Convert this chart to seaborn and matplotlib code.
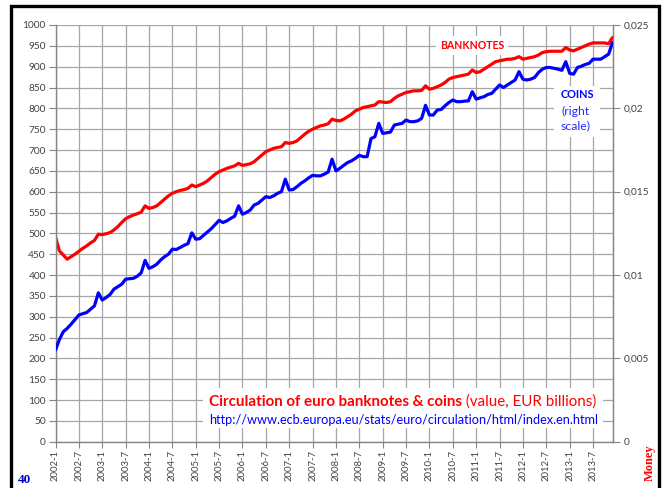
import matplotlib
matplotlib.use('Agg')
import matplotlib.pyplot as plt
import seaborn as sns
import pandas as pd
from matplotlib.lines import Line2D
from matplotlib.patches import Rectangle

# monthly categories 2002-1 .. 2013-12
months = [f'{y}-{m}' for y in range(2002, 2014) for m in range(1, 13)]

# banknotes in circulation (left scale, EUR billions)
banknotes = [
    491, 458, 448, 438, 444, 450, 457, 464, 470, 477, 483, 498,
    497, 499, 502, 508, 516, 526, 535, 540, 544, 547, 551, 566,
    560, 562, 566, 574, 582, 590, 596, 600, 603, 605, 608, 616,
    612, 616, 620, 626, 634, 642, 648, 652, 656, 659, 662, 668,
    663, 665, 667, 672, 680, 688, 696, 700, 704, 706, 708, 718,
    716, 718, 722, 730, 738, 745, 750, 754, 758, 760, 763, 774,
    771, 770, 774, 780, 786, 794, 798, 802, 804, 806, 808, 816,
    815, 814, 816, 824, 830, 834, 838, 840, 842, 842, 843, 854,
    846, 848, 852, 856, 862, 870, 874, 876, 878, 880, 882, 892,
    886, 888, 894, 900, 906, 912, 914, 916, 918, 918, 920, 924,
    918, 920, 922, 924, 928, 934, 936, 937, 937, 937, 937, 946,
    940, 938, 942, 946, 950, 954, 957, 957, 957, 957, 955, 970,
]

# coins in circulation (right scale)
coins = [
    0.00550, 0.00613, 0.00660, 0.00680, 0.00705, 0.00733, 0.00760, 0.00768, 0.00775, 0.00795, 0.00815, 0.00893,
    0.00850, 0.00865, 0.00883, 0.00915, 0.00930, 0.00945, 0.00975, 0.00978, 0.00980, 0.00993, 0.01013, 0.01088,
    0.01040, 0.01050, 0.01065, 0.01090, 0.01110, 0.01125, 0.01155, 0.01153, 0.01165, 0.01178, 0.01188, 0.01253,
    0.01215, 0.01218, 0.01238, 0.01258, 0.01278, 0.01303, 0.01328, 0.01315, 0.01325, 0.01340, 0.01353, 0.01415,
    0.01365, 0.01375, 0.01390, 0.01420, 0.01430, 0.01450, 0.01470, 0.01465, 0.01475, 0.01490, 0.01500, 0.01575,
    0.01510, 0.01513, 0.01530, 0.01550, 0.01565, 0.01583, 0.01598, 0.01595, 0.01595, 0.01605, 0.01618, 0.01695,
    0.01625, 0.01640, 0.01658, 0.01675, 0.01685, 0.01700, 0.01718, 0.01710, 0.01710, 0.01818, 0.01830, 0.01910,
    0.01850, 0.01853, 0.01858, 0.01900, 0.01905, 0.01910, 0.01930, 0.01920, 0.01920, 0.01925, 0.01940, 0.02018,
    0.01960, 0.01960, 0.01990, 0.01993, 0.02015, 0.02035, 0.02050, 0.02040, 0.02040, 0.02043, 0.02045, 0.02100,
    0.02055, 0.02063, 0.02070, 0.02083, 0.02090, 0.02115, 0.02140, 0.02125, 0.02140, 0.02155, 0.02170, 0.02220,
    0.02175, 0.02170, 0.02175, 0.02185, 0.02215, 0.02235, 0.02245, 0.02245, 0.02240, 0.02235, 0.02228, 0.02280,
    0.02210, 0.02205, 0.02245, 0.02253, 0.02263, 0.02270, 0.02295, 0.02295, 0.02295, 0.02310, 0.02325, 0.02395,
]

left_ticks = list(range(0, 1001, 50))
right_ticks = [0, 0.005, 0.01, 0.015, 0.02, 0.025]
right_tick_labels = ['0', '0,005', '0,01', '0,015', '0,02', '0,025']

title_bold = 'Circulation of euro banknotes & coins'
title_rest = ' (value, EUR billions)'
source_url = 'http://www.ecb.europa.eu/stats/euro/circulation/html/index.en.html'

sns.set_style('white')
plt.rcParams['font.family'] = ['Lato', 'DejaVu Sans']

W, H = 667, 488
fig = plt.figure(figsize=(W / 100, H / 100), dpi=100)


def fx(px):
    return px / W


def fy(py):
    return 1 - py / H


ax = fig.add_axes([fx(55.5), fy(441.7), fx(612.5) - fx(55.5), fy(25) - fy(441.7)])

df = pd.DataFrame({'idx': range(len(months)), 'banknotes': banknotes, 'coins': coins})

sns.lineplot(data=df, x='idx', y='banknotes', ax=ax, color='#ff0000', linewidth=2.3)
ax.set_xlim(0, len(months) - 1)
ax.set_ylim(0, 1000)
ax.set_yticks(left_ticks)
ax.set_xticks(range(0, len(months), 6))
ax.set_xticklabels(months[::6], rotation=90)
ax.set_xlabel('')
ax.set_ylabel('')
ax.grid(True, color='#a6a6a6', linewidth=0.9)
ax.set_axisbelow(True)
ax.tick_params(axis='y', length=5, color='#868686', labelsize=7.3, labelcolor='#404040', pad=2, left=True)
ax.tick_params(axis='x', length=4, color='#868686', labelsize=6.8, labelcolor='#404040', pad=2, bottom=True)
for side in ['left', 'bottom', 'right']:
    ax.spines[side].set_color('#868686')
    ax.spines[side].set_linewidth(1)
ax.spines['top'].set_visible(False)

ax2 = ax.twinx()
sns.lineplot(data=df, x='idx', y='coins', ax=ax2, color='#0000ff', linewidth=2.3)
ax2.set_ylim(0, 0.025)
ax2.set_yticks(right_ticks)
ax2.set_yticklabels(right_tick_labels)
ax2.set_ylabel('')
ax2.tick_params(axis='y', length=5, color='#868686', labelsize=7.3, labelcolor='#404040', pad=3, right=True)
ax2.spines['right'].set_color('#868686')
ax2.spines['top'].set_visible(False)
ax2.spines['left'].set_visible(False)
ax2.spines['bottom'].set_visible(False)
ax2.grid(False)

# labels for the two series
fig.text(fx(472), fy(45.5), 'BANKNOTES', ha='center', va='center', fontsize=7.6,
         weight='bold', color='#ff0000',
         bbox=dict(facecolor='white', edgecolor='none', pad=3))
fig.patches.append(Rectangle((fx(554), fy(137)), fx(600) - fx(554), fy(86) - fy(137),
                             transform=fig.transFigure, facecolor='white', edgecolor='none', zorder=2.5))
fig.text(fx(561), fy(95), 'COINS', ha='left', va='center', fontsize=7.8, weight='bold', color='#0000ff')
fig.text(fx(561), fy(111.5), '(right', ha='left', va='center', fontsize=8.8, color='#2a2aff')
fig.text(fx(561), fy(126), 'scale)', ha='left', va='center', fontsize=8.8, color='#2a2aff')

# title block with white background
fig.patches.append(Rectangle((fx(203), fy(428)), fx(603) - fx(203), fy(388) - fy(428),
                             transform=fig.transFigure, facecolor='white', edgecolor='none', zorder=2.5))
t1 = fig.text(fx(209), fy(402), title_bold, ha='left', va='center', fontsize=10.9,
              weight='bold', color='#ff0000')
fig.canvas.draw()
renderer = fig.canvas.get_renderer()
bb = t1.get_window_extent(renderer)
fig.text(bb.x1 / W, fy(402), title_rest, ha='left', va='center', fontsize=10.9, color='#ff0000')

t3 = fig.text(fx(209), fy(419.5), source_url, ha='left', va='center', fontsize=9.15, color='#0000ff')
fig.canvas.draw()
bb3 = t3.get_window_extent(renderer)
fig.lines.append(Line2D([bb3.x0 / W, bb3.x1 / W], [fy(424.8), fy(424.8)], transform=fig.transFigure,
                        color='#0000ff', linewidth=0.8))

# page marks
fig.text(fx(24.5), fy(480), '40', ha='center', va='center', fontsize=9.5,
         family='Liberation Serif', weight='bold', color='#0000cc')
fig.text(fx(650), fy(463), 'Money', ha='center', va='center', rotation=90, fontsize=9,
         family='Liberation Serif', weight='bold', color='#ff0000')

# outer frame
fig.patches.append(Rectangle((fx(11), fy(495)), fx(659) - fx(11), fy(6) - fy(495),
                             transform=fig.transFigure, fill=False, edgecolor='black', linewidth=2.4))

fig.savefig('out.png', dpi=100)
